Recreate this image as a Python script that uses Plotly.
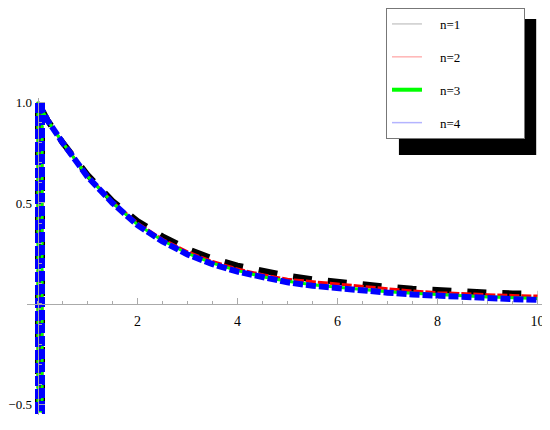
import plotly.graph_objects as go

# sample positions (first points trace the vertical jump near x=0)
x_vals = [0.09, 0.09, 0.01, 0.01, 0.2, 0.5, 1, 1.5, 2, 2.5, 3, 3.5, 4, 4.5, 5, 5.5, 6, 6.5, 7, 7.5,
          8, 8.5, 9, 9.5, 10]

n1_vals = [1.0, -0.53, -0.53, 1.0, 0.91, 0.80, 0.64, 0.51, 0.41, 0.335, 0.272, 0.225, 0.19, 0.163,
           0.14, 0.122, 0.108, 0.095, 0.085, 0.075, 0.067, 0.061, 0.056, 0.052, 0.05]
n2_vals = [1.0, -0.53, -0.53, 1.0, 0.91, 0.80, 0.635, 0.505, 0.40, 0.32, 0.258, 0.21, 0.173, 0.145,
           0.122, 0.11, 0.098, 0.085, 0.074, 0.064, 0.056, 0.05, 0.046, 0.042, 0.039]
n3_vals = [1.0, -0.53, -0.53, 1.0, 0.91, 0.80, 0.632, 0.502, 0.393, 0.314, 0.25, 0.202, 0.165, 0.135,
           0.112, 0.095, 0.083, 0.071, 0.061, 0.053, 0.046, 0.04, 0.035, 0.031, 0.027]
n4_vals = [1.0, -0.53, -0.53, 1.0, 0.91, 0.80, 0.63, 0.50, 0.39, 0.31, 0.245, 0.197, 0.16, 0.13,
           0.107, 0.09, 0.077, 0.066, 0.056, 0.047, 0.040, 0.034, 0.029, 0.024, 0.020]

labels = ["n=1", "n=2", "n=3", "n=4"]
series = [n1_vals, n2_vals, n3_vals, n4_vals]
line_styles = [
    dict(color="black", width=6, dash="19px,16px"),
    dict(color="red", width=3, dash="10px,2px"),
    dict(color="#00ff00", width=3),
    dict(color="blue", width=6, dash="10px,3px"),
]
legend_styles = [
    dict(color="#cccccc", width=1.5),
    dict(color="#ffb4b4", width=1.5),
    dict(color="#00ff00", width=4),
    dict(color="#b4b4ff", width=1.5),
]

x_range = [-0.21, 10.15]
y_range = [-0.55, 1.02]

fig = go.Figure()

for vals, style in zip(series, line_styles):
    fig.add_trace(go.Scatter(x=x_vals, y=vals, mode="lines", line=style,
                             showlegend=False, hoverinfo="skip"))

# legend entries (pale swatches like the original)
nb = "\u00a0"
for i, (lab, style) in enumerate(zip(labels, legend_styles)):
    fig.add_trace(go.Scatter(x=[None], y=[None], mode="lines", line=style,
                             name=nb * 4 + lab + nb * 18, legendgroup=f"g{i}"))

# legend shadow
fig.add_shape(type="rect", xref="paper", yref="paper",
              x0=0.718, x1=0.983, y0=0.820, y1=1.249,
              fillcolor="black", line=dict(width=0), layer="above")

axis_font = dict(family="Liberation Serif", size=14, color="black")
y_font = dict(family="Liberation Serif", size=13, color="black")

# the page body adds an 8px offset, so margins are reduced by that amount
fig.update_layout(
    width=542, height=422,
    margin=dict(l=19, r=5, t=90, b=15, autoexpand=False),
    paper_bgcolor="white", plot_bgcolor="white",
    font=axis_font,
    legend=dict(x=0.693, y=1.284, xanchor="left", yanchor="top",
                bgcolor="white", bordercolor="#777777", borderwidth=1,
                font=dict(family="Liberation Serif", size=13, color="black"),
                tracegroupgap=13, itemwidth=30),
    xaxis=dict(range=x_range, anchor="free",
               position=(0 - y_range[0]) / (y_range[1] - y_range[0]),
               showgrid=False, zeroline=False, showline=True,
               linecolor="#aaaaaa", linewidth=1,
               tickmode="array", tickvals=[2, 4, 6, 8, 10],
               ticktext=["2", "4", "6", "8", "10"],
               ticks="inside", ticklen=6, tickcolor="#aaaaaa",
               ticklabelstandoff=4,
               minor=dict(ticks="inside", ticklen=3, dtick=0.5, tick0=0,
                          tickcolor="#aaaaaa", showgrid=False),
               tickfont=axis_font, automargin=False),
    yaxis=dict(range=y_range, anchor="free",
               position=(0 - x_range[0]) / (x_range[1] - x_range[0]),
               showgrid=False, zeroline=False, showline=True,
               linecolor="#aaaaaa", linewidth=1,
               tickmode="array", tickvals=[-0.5, 0.5, 1.0],
               ticktext=["\u22120.5", "0.5", "1.0"],
               ticks="inside", ticklen=6, tickcolor="#aaaaaa",
               ticklabelstandoff=3,
               minor=dict(ticks="inside", ticklen=3, dtick=0.1, tick0=0,
                          tickcolor="#aaaaaa", showgrid=False),
               tickfont=y_font, automargin=False),
)

fig.write_html("out.html")
